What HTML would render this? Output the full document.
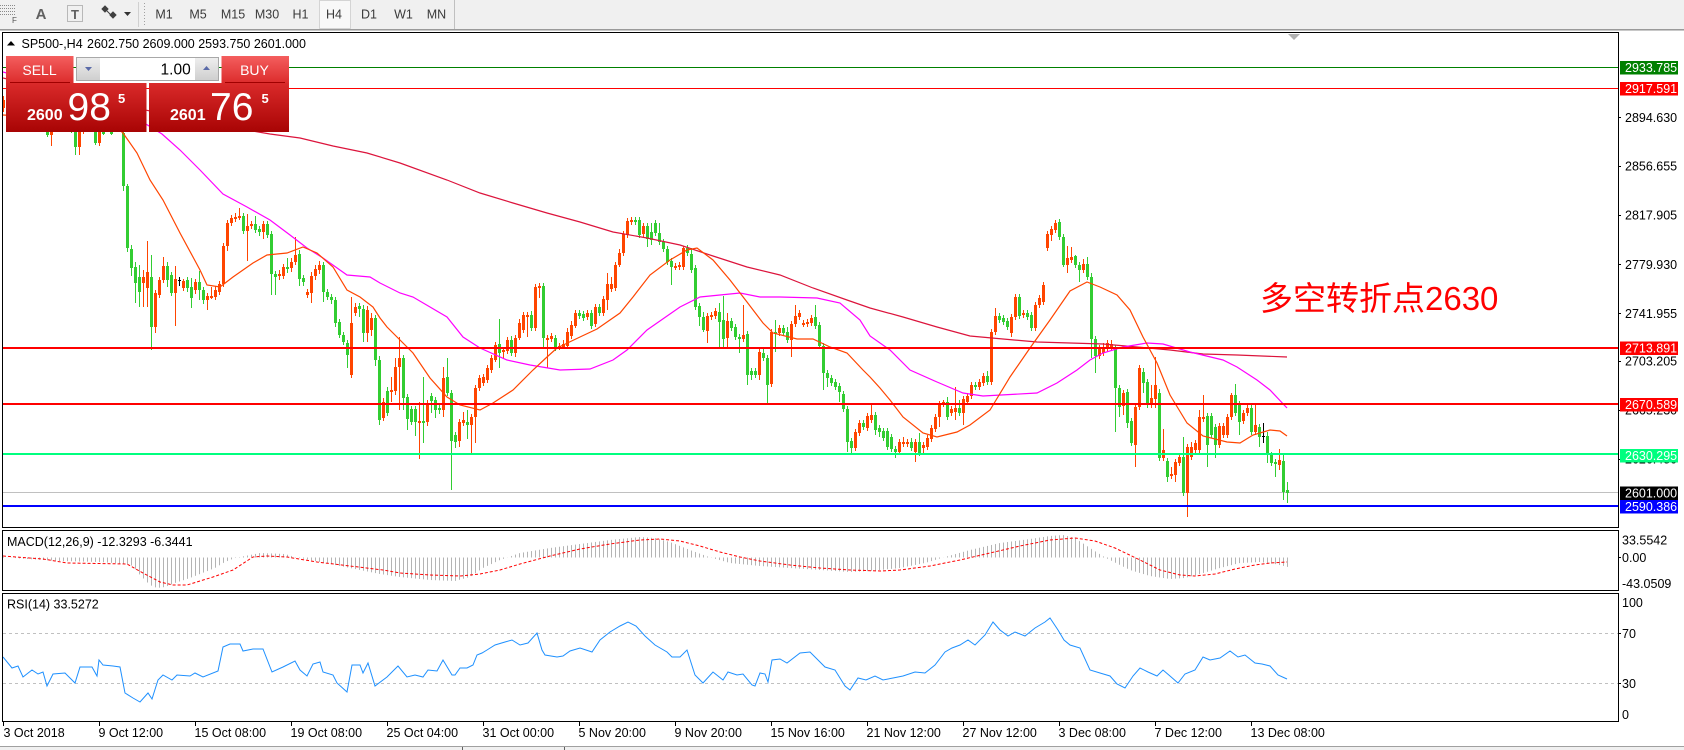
<!DOCTYPE html>
<html><head><meta charset="utf-8"><style>
html,body{margin:0;padding:0;background:#fff;width:1684px;height:750px;overflow:hidden}
svg{display:block}
text{font-family:"Liberation Sans","Noto Sans CJK SC",sans-serif}
</style></head><body>
<svg width="1684" height="750" viewBox="0 0 1684 750" xmlns="http://www.w3.org/2000/svg">
<defs>
<linearGradient id="gb" x1="0" y1="0" x2="0" y2="1"><stop offset="0" stop-color="#f45e5e"/><stop offset="1" stop-color="#dc2c2c"/></linearGradient>
<linearGradient id="gp" x1="0" y1="0" x2="0" y2="1"><stop offset="0" stop-color="#da2a2a"/><stop offset="1" stop-color="#a80404"/></linearGradient>
<linearGradient id="gg" x1="0" y1="0" x2="0" y2="1"><stop offset="0" stop-color="#eeeeee"/><stop offset="1" stop-color="#cfcfcf"/></linearGradient>
<pattern id="hist" patternUnits="userSpaceOnUse" x="3" y="0" width="4" height="750"><rect x="0" y="0" width="1" height="750" fill="#b4b4b4"/></pattern>
<clipPath id="cm"><rect x="3" y="33" width="1615" height="494"/></clipPath>
<clipPath id="cmacd"><rect x="3" y="531" width="1615" height="59"/></clipPath>
<clipPath id="crsi"><rect x="3" y="594" width="1615" height="127"/></clipPath>
</defs>

<!-- toolbar -->
<rect x="0" y="0" width="1684" height="29" fill="#f0f0f0"/>
<rect x="0" y="29" width="1684" height="1" fill="#9a9a9a"/>
<rect x="0" y="30" width="1684" height="1" fill="#c8c8c8"/>
<path d="M0 5.5h16M0 8.5h16M0 11.5h16M0 14.5h16" stroke="#8a8a8a" stroke-dasharray="1 1"/>
<text x="12" y="23" font-size="8" fill="#555">F</text>
<text x="41" y="19" font-size="15" font-weight="bold" fill="#606060" text-anchor="middle">A</text>
<rect x="67.5" y="5.5" width="15" height="16" fill="none" stroke="#808080" stroke-dasharray="1 1"/>
<text x="75" y="19" font-size="13" font-weight="bold" fill="#606060" text-anchor="middle">T</text>
<path d="M102 9l3-3 3 3-3 3zM110 15l3-3 3 3-3 3zM106 10l5 5" fill="#404040" stroke="#404040" stroke-width="1"/>
<path d="M124 12h7l-3.5 4z" fill="#333"/>
<path d="M138.5 2V27" stroke="#d0d0d0"/>
<path d="M144.5 3V27" stroke="#a0a0a0" stroke-dasharray="1 2"/>
<rect x="319.5" y="0.5" width="31" height="28" fill="#f8f8f8" stroke="#d4d4d4"/>
<path d="M454.5 0V29" stroke="#c0c0c0"/>
<g font-size="12.5" fill="#3a3a3a" text-anchor="middle">
<text x="164" y="18.5">M1</text><text x="198" y="18.5">M5</text><text x="233" y="18.5">M15</text><text x="267" y="18.5">M30</text><text x="300.5" y="18.5">H1</text><text x="334" y="18.5">H4</text><text x="369" y="18.5">D1</text><text x="403.5" y="18.5">W1</text><text x="436.5" y="18.5">MN</text>
</g>

<!-- panels -->
<rect x="2.5" y="32.5" width="1616" height="495" fill="#fff" stroke="#000"/>
<rect x="2.5" y="530.5" width="1616" height="60" fill="#fff" stroke="#000"/>
<rect x="2.5" y="593.5" width="1616" height="128" fill="#fff" stroke="#000"/>
<path d="M1288 34h12l-6 6z" fill="#b0b0b0"/>

<!-- main chart -->
<g clip-path="url(#cm)">
<path d="M3 492.5H1618" stroke="#c0c0c0"/>
<g transform="translate(0.5 0)" fill="none">
<path stroke="#32cd32" stroke-width="1" d="M7 97V113M19 94V110M23 103V118M31 104V122M35 114V128M47 110V137M59 112V124M67 109V126M71 118V133M75 125V155M87 120V131M95 115V145M103 121V135M111 118V135M123 130V191M127 184V252M131 245V276M135 262V303M139 265V307M151 255V350M167 262V287M171 272V296M187 277V292M191 278V308M199 271V300M203 287V304M243 213V234M255 216V233M259 226V236M267 221V238M271 231V295M275 271V295M287 258V273M299 250V286M303 275V286M323 262V302M327 289V300M331 294V304M335 297V327M339 319V338M343 332V345M347 340V368M359 303V317M363 305V342M375 315V366M379 356V425M387 387V416M403 355V410M407 394V430M411 406V425M415 406V436M423 377V443M431 393V413M435 397V418M439 405V414M447 358V396M451 390V490M455 432V448M467 410V439M499 319V368M511 336V356M531 311V331M543 283V347M555 335V351M579 310V319M583 311V321M591 310V329M599 304V316M635 217V225M639 217V238M647 223V247M651 223V245M655 220V236M659 223V245M663 239V252M667 246V265M671 258V285M687 245V256M691 248V273M695 265V310M699 303V326M703 312V332M719 303V347M723 296V347M731 318V331M735 324V340M739 334V353M747 331V385M751 368V380M755 368V378M763 347V361M767 355V404M775 320V352M783 325V336M787 327V343M815 305V329M819 322V349M823 343V390M827 370V387M831 375V386M835 379V390M839 383V402M843 391V412M847 406V452M851 438V454M863 420V430M875 412V435M879 425V437M883 428V441M887 428V450M891 434V452M895 446V458M911 438V451M919 433V456M947 397V420M959 400V416M975 382V390M987 371V385M999 313V323M1003 315V325M1007 318V330M1019 294V319M1027 310V320M1031 312V331M1059 219V240M1063 234V267M1075 255V268M1079 262V282M1087 257V280M1091 273V358M1095 336V373M1115 345V432M1119 385V417M1127 389V428M1131 418V446M1143 368V393M1147 379V408M1159 389V461M1167 458V482M1183 437V496M1207 413V467M1211 413V438M1215 424V458M1235 384V416M1239 401V435M1251 404V435M1259 424V447M1267 432V463M1271 452V466M1275 459V477M1283 455V500M1287 482V503"/>
<path stroke="#32cd32" stroke-width="3" d="M7 100V110M19 98V106M23 106V114M31 108V118M35 118V124M47 114V135M59 115V120M67 112V122M71 122V130M75 128V147M87 124V128M95 118V143M103 125V134M111 120V134M123 133V186M127 186V248M131 249V268M135 267V283M139 277V292M151 277V327M167 266V280M171 275V293M187 280V288M191 287V298M199 282V290M203 290V300M243 216V231M255 224V230M259 229V232M267 224V235M271 234V274M275 274V277M287 267V269M299 254V279M303 278V282M323 265V292M327 292V297M331 297V300M335 300V323M339 322V335M343 335V342M347 343V355M359 306V309M363 309V333M375 318V360M379 360V420M387 391V413M403 358V398M407 397V419M411 409V422M415 409V422M423 421V423M431 396V401M435 400V410M439 408V410M447 377V393M451 393V441M455 435V442M467 422V425M499 344V353M511 340V353M531 315V328M543 286V338M555 338V348M579 313V316M583 314V318M591 313V326M599 307V313M635 220V222M639 220V235M647 226V239M651 232V240M655 223V233M659 233V242M663 242V249M667 249V262M671 261V267M687 248V253M691 254V270M695 268V307M699 306V317M703 317V330M719 312V322M723 320V339M731 321V328M735 327V337M739 337V339M747 334V375M751 371V375M755 371V375M763 353V358M767 358V385M775 332V334M783 328V333M787 332V340M815 317V326M819 325V346M823 346V373M827 373V378M831 378V383M835 382V387M839 386V392M843 394V409M847 409V442M851 441V448M863 423V427M875 415V430M879 428V432M883 431V438M887 431V447M891 437V449M895 449V452M911 442V448M919 442V453M947 402V417M959 408V413M975 385V387M987 376V382M999 316V320M1003 318V322M1007 321V327M1019 297V316M1027 313V317M1031 315V328M1059 222V237M1063 237V265M1075 256V265M1079 265V270M1087 264V277M1091 277V339M1095 339V356M1115 348V388M1119 388V407M1127 392V423M1131 421V443M1143 372V383M1147 382V405M1159 393V458M1167 461V477M1183 457V493M1207 416V445M1211 416V435M1215 427V445M1235 395V413M1239 404V422M1251 408V432M1259 427V437M1267 436V455M1271 455V463M1275 462V464M1283 461V492M1287 490V493"/>
<path stroke="#ff4500" stroke-width="1" d="M3 96V112M11 100V114M15 95V108M27 105V118M39 112V128M43 108V120M51 118V146M55 110V126M63 108V121M79 126V155M83 120V134M91 114V130M99 121V146M107 116V129M115 120V132M119 118V131M143 270V307M147 241V307M155 290V333M159 277V298M163 257V283M175 266V326M183 279V291M195 279V294M207 293V310M211 287V299M215 286V300M219 281V295M223 243V287M227 220V251M231 215V226M235 213V222M239 208V220M247 214V261M251 221V229M263 221V239M279 270V280M283 264V279M291 258V272M295 237V265M307 289V298M311 272V303M315 265V280M319 261V274M351 297V378M355 303V316M367 306V342M371 313V336M383 398V421M391 377V402M395 358V395M399 337V410M419 402V459M427 400V426M443 367V417M459 419V447M463 412V426M471 414V453M475 385V443M479 375V391M483 374V386M487 365V383M491 355V373M495 342V362M503 347V358M507 337V354M515 335V357M519 319V340M523 312V333M527 312V337M535 284V331M539 283V298M547 335V368M551 333V342M559 343V350M563 340V349M567 328V349M571 321V339M575 310V328M587 310V320M595 304V327M603 296V316M607 273V310M611 277V292M615 262V291M619 249V267M623 231V256M627 218V238M631 217V225M643 223V237M675 263V270M679 262V270M683 246V270M707 313V343M711 312V320M715 308V319M727 313V348M743 305V342M759 349V380M771 329V387M779 325V336M791 321V357M795 305V327M799 310V320M803 320V327M807 319V327M811 315V326M855 429V451M859 420V436M867 413V431M871 403V423M899 439V455M903 437V447M907 439V447M915 439V462M923 442V453M927 435V450M931 425V442M935 414V432M939 401V427M943 400V407M951 406V416M955 387V420M963 396V425M967 393V405M971 382V399M979 379V390M983 373V386M991 329V385M995 308V335M1011 314V337M1015 294V320M1023 310V318M1035 302V331M1039 295V308M1043 282V305M1047 231V251M1051 226V241M1055 220V233M1067 246V273M1071 247V263M1083 259V273M1099 345V359M1103 343V356M1107 340V352M1111 340V350M1123 390V415M1135 404V467M1139 365V410M1151 385V408M1155 357V408M1163 429V461M1171 467V479M1175 459V482M1179 453V466M1187 444V517M1191 442V460M1195 440V453M1199 410V453M1203 395V422M1219 423V448M1223 423V438M1227 414V438M1231 393V420M1243 410V424M1247 405V416M1255 404V435M1279 449V470"/>
<path stroke="#ff4500" stroke-width="3" d="M3 100V108M11 104V110M15 98V104M27 108V114M39 116V124M43 112V116M51 122V135M55 115V122M63 112V118M79 130V147M83 124V130M91 118V126M99 125V143M107 120V126M115 124V130M119 122V128M143 277V283M147 272V288M155 293V327M159 280V295M163 266V280M175 279V293M183 281V288M195 282V290M207 296V300M211 296V298M215 290V297M219 284V292M223 246V284M227 223V246M231 218V223M235 217V219M239 216V218M247 226V231M251 224V226M263 224V232M279 274V276M283 267V276M291 262V268M295 255V262M307 292V295M311 276V293M315 269V276M319 265V270M351 323V375M355 307V313M367 310V333M371 318V330M383 402V418M391 390V392M395 367V391M399 358V367M419 421V423M427 403V422M443 378V410M459 422V441M463 420V423M471 417V425M475 388V417M479 378V388M483 377V383M487 368V380M491 358V370M495 345V360M503 350V352M507 340V351M515 338V353M519 323V338M523 315V330M527 315V317M535 287V328M539 286V288M547 338V340M551 336V339M559 346V348M563 344V347M567 332V346M571 325V336M575 313V326M587 313V317M595 307V324M603 299V313M607 284V300M611 284V289M615 265V288M619 253V265M623 234V253M627 221V235M631 220V222M643 226V234M675 266V268M679 265V267M683 248V267M707 316V331M711 315V317M715 311V316M727 321V338M743 335V339M759 352V375M771 332V384M779 328V333M791 324V340M795 316V324M799 313V317M803 323V325M807 322V324M811 318V323M855 432V448M859 423V433M867 416V428M871 415V420M899 442V452M903 442V444M907 442V444M915 442V452M923 445V448M927 438V447M931 428V439M935 417V429M939 404V417M943 402V404M951 409V413M955 408V412M963 399V413M967 396V402M971 385V396M979 382V387M983 376V383M991 332V382M995 316V332M1011 317V333M1015 297V317M1023 313V315M1035 305V328M1039 298V305M1043 285V302M1047 234V248M1051 229V235M1055 223V230M1067 258V265M1071 257V260M1083 264V270M1099 348V356M1103 347V353M1107 343V349M1111 344V347M1123 393V406M1135 407V445M1139 368V407M1151 398V405M1155 385V399M1163 450V458M1171 474V476M1175 462V475M1179 457V463M1187 447V493M1191 447V457M1195 443V450M1199 417V450M1203 417V419M1219 426V445M1223 426V435M1227 417V435M1231 395V417M1243 413V421M1247 408V413M1255 425V432M1279 460V465"/>
<path stroke="#000" stroke-width="1" d="M179 277V286M1263 423V443"/>
</g>
<path stroke="#000" d="M178 280.5h3M1262 436.5h3"/>
<polyline fill="none" stroke="#dc143c" stroke-width="1.2" points="3,78 100,100 200,122 270,134 300,138 333,146 367,153 400,163 447,180 480,193 513,203 547,213 580,222 613,232 647,238 680,245 713,256 747,267 780,275 813,288 847,300 870,308 903,317 937,327 970,336 1003,339 1037,342 1070,343 1103,344 1137,347 1170,350 1203,354 1237,355 1287,357"/>
<polyline fill="none" stroke="#ff00ff" stroke-width="1.2" points="3,72 60,88 120,108 162,134 180,150 200,170 223,194 247,207 270,220 290,235 307,248 323,258 347,275 370,277 380,283 400,293 413,297 447,317 463,337 480,348 507,360 530,365 560,370 590,369 613,360 627,350 647,330 680,307 700,297 740,293 760,297 780,297 817,298 840,303 860,320 870,336 890,350 910,370 937,382 963,393 983,396 1037,393 1057,383 1077,370 1090,360 1103,353 1123,347 1147,343 1163,344 1190,352 1223,360 1237,367 1257,380 1270,390 1287,408"/>
<polyline fill="none" stroke="#ff4500" stroke-width="1.2" points="3,115 60,118 110,121 123,133 137,153 150,180 163,200 180,233 193,257 200,270 207,285 220,287 233,277 253,263 267,255 287,253 303,247 317,253 333,267 347,290 360,297 373,307 380,318 387,327 397,337 413,353 430,378 447,397 460,405 480,410 493,403 513,390 533,370 547,357 557,348 580,337 597,329 620,313 633,297 650,275 670,260 687,250 697,248 713,260 730,280 747,302 763,323 773,333 797,339 813,339 830,347 847,353 863,370 870,377 880,388 890,400 903,417 923,433 937,437 957,432 970,425 990,410 1010,377 1030,348 1050,320 1070,291 1087,282 1100,287 1117,295 1130,310 1143,337 1157,363 1170,395 1187,423 1203,436 1227,442 1240,443 1253,435 1270,430 1280,431 1287,436"/>
<path d="M3 67.5H1618" stroke="#008000"/>
<path d="M3 88.5H1618" stroke="#ff0000"/>
<path d="M3 348H1618" stroke="#ff0000" stroke-width="2"/>
<path d="M3 404H1618" stroke="#ff0000" stroke-width="2"/>
<path d="M3 454H1618" stroke="#00ff7f" stroke-width="2"/>
<path d="M3 506H1618" stroke="#0000ff" stroke-width="2"/>
<text x="1260" y="310" font-size="33" fill="#ff0000">多空转折点2630</text>
</g>

<!-- title -->
<path d="M7 45.5l4-4.5 4 4.5z" fill="#000"/>
<text x="21.5" y="48" font-size="12.5" fill="#000">SP500-,H4</text>
<text x="87" y="48" font-size="12.5" fill="#000">2602.750 2609.000 2593.750 2601.000</text>

<!-- trade widget -->
<rect x="6" y="56" width="67.5" height="27" fill="url(#gb)"/>
<path d="M10 82.5h60" stroke="#a00000"/>
<text x="39.5" y="75" font-size="14" fill="#fff" text-anchor="middle">SELL</text>
<rect x="76.5" y="57.5" width="142" height="23" fill="#fff" stroke="#a8a8a8"/>
<rect x="77" y="58" width="23" height="22" fill="url(#gg)"/>
<rect x="195" y="58" width="23" height="22" fill="url(#gg)"/>
<path d="M85 67h7l-3.5 4z" fill="#5a6aa8"/>
<path d="M203 70h7l-3.5-4z" fill="#5a6aa8"/>
<text x="190.7" y="74.5" font-size="15.5" fill="#000" text-anchor="end">1.00</text>
<rect x="221.5" y="56" width="67.5" height="27" fill="url(#gb)"/>
<path d="M225 82.5h60" stroke="#a00000"/>
<text x="254.5" y="75" font-size="14" fill="#fff" text-anchor="middle">BUY</text>
<rect x="6" y="83" width="140.5" height="49" fill="url(#gp)"/>
<rect x="149" y="83" width="140" height="49" fill="url(#gp)"/>
<text x="27" y="120" font-size="16" font-weight="bold" fill="#fff">2600</text>
<text x="67.5" y="120" font-size="39" fill="#fff">98</text>
<text x="118" y="103" font-size="13" font-weight="bold" fill="#fff">5</text>
<text x="170" y="120" font-size="16" font-weight="bold" fill="#fff">2601</text>
<text x="210" y="120" font-size="39" fill="#fff">76</text>
<text x="261.5" y="103" font-size="13" font-weight="bold" fill="#fff">5</text>

<!-- price scale -->
<path d="M1618 117.5h3M1618 166.5h3M1618 215.5h3M1618 264.5h3M1618 313.5h3M1618 361.5h3M1618 410.5h3M1618 459.5h3M1618 557.5h3M1618 633.5h3M1618 683.5h3" stroke="#000"/>
<g font-size="12.5" fill="#000">
<text x="1625" y="121.8">2894.630</text>
<text x="1625" y="170.5">2856.655</text>
<text x="1625" y="219.5">2817.905</text>
<text x="1625" y="268.8">2779.930</text>
<text x="1625" y="317.8">2741.955</text>
<text x="1625" y="365.5">2703.205</text>
<text x="1625" y="414.5">2665.230</text>
<text x="1625" y="463.5">2626.480</text>
</g>
<g font-size="12.5" fill="#fff">
<rect x="1620" y="61" width="58" height="13.5" fill="#008000"/><text x="1625" y="72">2933.785</text>
<rect x="1620" y="82" width="58" height="13.5" fill="#ff0000"/><text x="1625" y="93">2917.591</text>
<rect x="1620" y="341.5" width="58" height="13.5" fill="#ff0000"/><text x="1625" y="352.5">2713.891</text>
<rect x="1620" y="398" width="58" height="13.5" fill="#ff0000"/><text x="1625" y="409">2670.589</text>
<rect x="1620" y="449" width="58" height="13.5" fill="#00ff7f"/><text x="1625" y="460">2630.295</text>
<rect x="1620" y="486.5" width="58" height="13.5" fill="#000"/><text x="1625" y="497.5">2601.000</text>
<rect x="1620" y="500" width="58" height="13.5" fill="#0000ff"/><text x="1625" y="511">2590.386</text>
</g>

<!-- MACD -->
<g clip-path="url(#cmacd)">
<polygon fill="url(#hist)" points="3,557.5 3,557 27,559 60,561 100,562 127,564 133,566 140,575 150,585 157,588 165,587 175,583 190,578 200,574 215,568 225,562 235,558 245,556 260,553 285,554 295,557 320,562 340,566 360,570 380,574 400,577 430,580 455,581 470,577 483,568 500,560 520,553 550,548 580,544 610,540 640,537 655,538 670,542 690,550 709,557 730,563 760,566 790,568 820,570 850,572 870,571 900,568 925,563 945,557 970,550 1000,543 1030,539 1050,536 1063,535 1075,538 1090,548 1106,558 1130,570 1150,576 1170,579 1185,578 1200,574 1220,568 1240,563 1260,562 1275,564 1288,567 1288,557.5"/>
<polyline fill="none" stroke="#ff0000" stroke-width="1" stroke-dasharray="3 2" points="3,556 43,559 67,563 127,564 143,573 160,582 173,585 187,585 213,577 233,570 253,557 267,556 287,557 317,562 350,566 383,570 400,573 430,575 460,576 480,574 500,570 520,564 550,556 580,549 610,544 640,540 660,539 680,541 700,546 720,552 740,557 760,561 790,565 820,568 850,570 880,571 900,570 930,566 960,560 990,553 1020,546 1050,540 1075,538 1095,541 1115,548 1140,560 1160,570 1180,575 1195,576 1215,574 1235,569 1255,565 1270,563 1287,562"/>
</g>
<text x="7" y="546" font-size="12.5" fill="#000">MACD(12,26,9) -12.3293 -6.3441</text>
<g font-size="12.5" fill="#000">
<text x="1622" y="544.5">33.5542</text>
<text x="1622" y="562">0.00</text>
<text x="1622" y="588">-43.0509</text>
</g>

<!-- RSI -->
<g clip-path="url(#crsi)">
<path d="M3 633.5H1618M3 683.5H1618" stroke="#c0c0c0" stroke-dasharray="3 3"/>
<polyline fill="none" stroke="#1e90ff" stroke-width="1" points="3,657 12,668 18,666 23,677 32,670 38,674 43,672 47,686 53,674 65,673 75,683 80,667 92,667 97,676 99,660 103,665 113,666 120,667 125,693 133,698 140,702 148,693 152,699 158,680 163,675 172,680 177,675 190,676 195,673 203,677 218,671 223,647 230,644 240,644 243,651 253,649 263,649 272,672 283,667 295,661 300,670 307,676 313,664 320,662 323,672 333,675 337,683 347,692 352,665 360,665 363,673 368,663 375,686 387,677 398,666 407,677 415,675 423,677 428,670 437,671 443,660 452,675 455,675 460,668 467,668 473,665 477,655 482,653 487,650 495,645 505,642 512,640 520,645 528,643 537,633 542,650 545,655 557,657 563,656 570,651 580,648 592,652 600,640 610,632 620,626 628,622 636,626 645,636 655,645 667,652 672,657 680,657 687,650 695,675 703,683 713,672 723,680 728,672 737,675 743,674 752,685 755,686 760,673 765,674 768,682 772,660 780,659 787,663 800,653 810,652 818,660 825,667 835,670 845,686 850,690 858,678 866,680 875,676 883,680 893,678 903,676 915,672 925,673 935,665 945,652 952,648 960,645 968,640 975,645 985,635 993,622 1000,630 1008,636 1015,632 1025,636 1035,628 1045,622 1050,618 1058,630 1064,640 1070,645 1080,648 1090,670 1100,673 1110,676 1117,684 1125,688 1133,676 1140,668 1148,672 1157,676 1163,670 1170,676 1178,683 1185,674 1195,670 1203,657 1210,660 1220,658 1230,651 1238,657 1245,655 1255,663 1262,664 1270,666 1278,675 1287,679"/>
</g>
<text x="7" y="608.5" font-size="12.5" fill="#000">RSI(14) 33.5272</text>
<g font-size="12.5" fill="#000">
<text x="1622" y="607">100</text>
<text x="1622" y="638">70</text>
<text x="1622" y="688">30</text>
<text x="1622" y="719">0</text>
</g>

<!-- time axis -->
<path d="M3.5 721V726M99.5 721V726M195.5 721V726M291.5 721V726M387.5 721V726M483.5 721V726M579.5 721V726M675.5 721V726M771.5 721V726M867.5 721V726M963.5 721V726M1059.5 721V726M1155.5 721V726M1251.5 721V726" stroke="#000"/>
<g font-size="12.5" fill="#000">
<text x="3.5" y="737">3 Oct 2018</text>
<text x="98.5" y="737">9 Oct 12:00</text>
<text x="194.5" y="737">15 Oct 08:00</text>
<text x="290.5" y="737">19 Oct 08:00</text>
<text x="386.5" y="737">25 Oct 04:00</text>
<text x="482.5" y="737">31 Oct 00:00</text>
<text x="578.5" y="737">5 Nov 20:00</text>
<text x="674.5" y="737">9 Nov 20:00</text>
<text x="770.5" y="737">15 Nov 16:00</text>
<text x="866.5" y="737">21 Nov 12:00</text>
<text x="962.5" y="737">27 Nov 12:00</text>
<text x="1058.5" y="737">3 Dec 08:00</text>
<text x="1154.5" y="737">7 Dec 12:00</text>
<text x="1250.5" y="737">13 Dec 08:00</text>
</g>

<!-- bottom strip -->
<rect x="0" y="746" width="1684" height="4" fill="#f0f0f0"/>
<path d="M0 746.5H1684" stroke="#a0a0a0"/>
<path d="M462.5 747V750M564.5 747V750" stroke="#606060"/>
</svg>
</body></html>
